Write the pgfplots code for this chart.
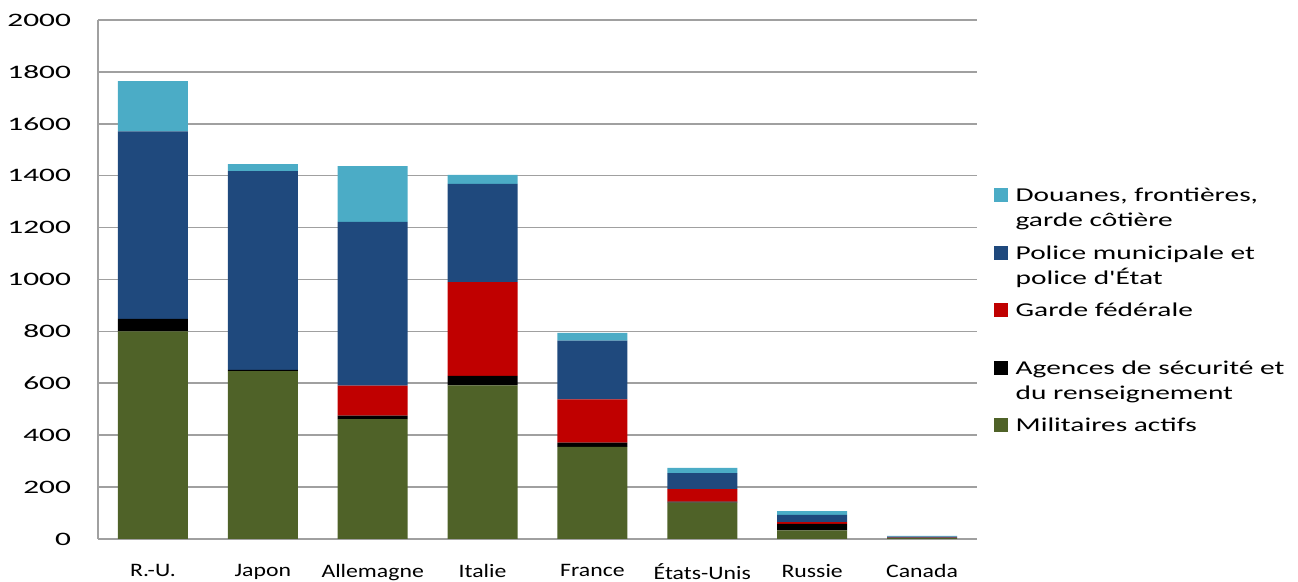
\documentclass[border=0pt]{standalone}
\usepackage{pgfplots}
\usepackage{pgfplotstable}
\usepackage{fontspec}
\pgfplotsset{compat=1.18}
\setmainfont{Carlito}[FakeStretch=1.4]
\newfontfamily\xfont{Carlito}[FakeStretch=1.25]
\newfontfamily\yfont{Carlito}[FakeStretch=1.65]
\newfontfamily\lfont{Carlito}[FakeStretch=1.5]

\definecolor{douane}{HTML}{4BACC6}
\definecolor{police}{HTML}{1F497D}
\definecolor{garde}{HTML}{C00000}
\definecolor{agence}{HTML}{000000}
\definecolor{milit}{HTML}{4F6228}
\definecolor{gridgray}{HTML}{A0A0A0}

% effectifs par pays (pour 100 000 habitants)
\pgfplotstableread{
x mil agen garde police douane
0 800 48  0   723 193
1 647 5   0   766 27
2 462 13  116 631 215
3 592 37  361 378 35
4 355 16  167 226 30
5 140 4   48  62  20
6 33  25  7   28  14
7 3   1   1   4   3
}\effectifs

\newcommand{\legtext}[1]{\lfont\begin{tabular}[t]{@{}l@{}}#1\end{tabular}}

\begin{document}
\begin{tikzpicture}[font=\fontsize{9.5}{11}\selectfont]
\useasboundingbox (-49pt,-21.5pt) rectangle (600pt,269.5pt);
\begin{axis}[
  at={(0,0)}, anchor=south west,
  scale only axis,
  width=439.5pt, height=259.5pt,
  ybar stacked, bar width=35pt,
  xmin=-0.5, xmax=7.5,
  ymin=0, ymax=2000,
  ytick={0,200,...,2000},
  xtick={0,...,7},
  xticklabels={R.-U.,Japon,Allemagne,Italie,France,États-Unis,Russie,Canada},
  axis x line*=bottom, axis y line*=left,
  axis line style={gridgray, line width=0.8pt, -},
  ymajorgrids, grid style={gridgray, line width=0.8pt},
  major tick length=0pt,
  yticklabel style={xshift=-10pt, font=\fontsize{9.5}{11}\selectfont\yfont},
  xticklabel style={yshift=-9pt, font=\fontsize{9.5}{11}\selectfont\xfont},
  /pgf/number format/.cd, set thousands separator={}, assume math mode=true,
  /pgfplots/.cd,
  reverse legend,
  legend cell align=left,
  area legend,
  legend image code/.code={\fill[#1] (0pt,-0.3pt) rectangle (7pt,6.7pt);},
  legend style={draw=none, fill=none, at={(1.0185,0.682)}, anchor=north west,
    row sep=0pt, column sep=3pt, inner sep=0pt,
    font=\fontsize{9.8}{12.5}\selectfont,
    nodes={inner sep=1pt, anchor=base west, text height=7pt, text depth=19.8pt}},
]
\addplot[fill=milit, draw=none] table[x=x, y=mil] {\effectifs};
\addlegendentry{\legtext{Militaires actifs}}
\addplot[fill=agence, draw=none] table[x=x, y=agen] {\effectifs};
\addlegendentry{\legtext{Agences de sécurité et\\du renseignement}}
\addplot[fill=garde, draw=none] table[x=x, y=garde] {\effectifs};
\addlegendentry{\legtext{Garde fédérale}}
\addplot[fill=police, draw=none] table[x=x, y=police] {\effectifs};
\addlegendentry{\legtext{Police municipale et\\police d'État}}
\addplot[fill=douane, draw=none] table[x=x, y=douane] {\effectifs};
\addlegendentry{\legtext{Douanes, frontières,\\garde côtière}}
\end{axis}
\end{tikzpicture}
\end{document}
